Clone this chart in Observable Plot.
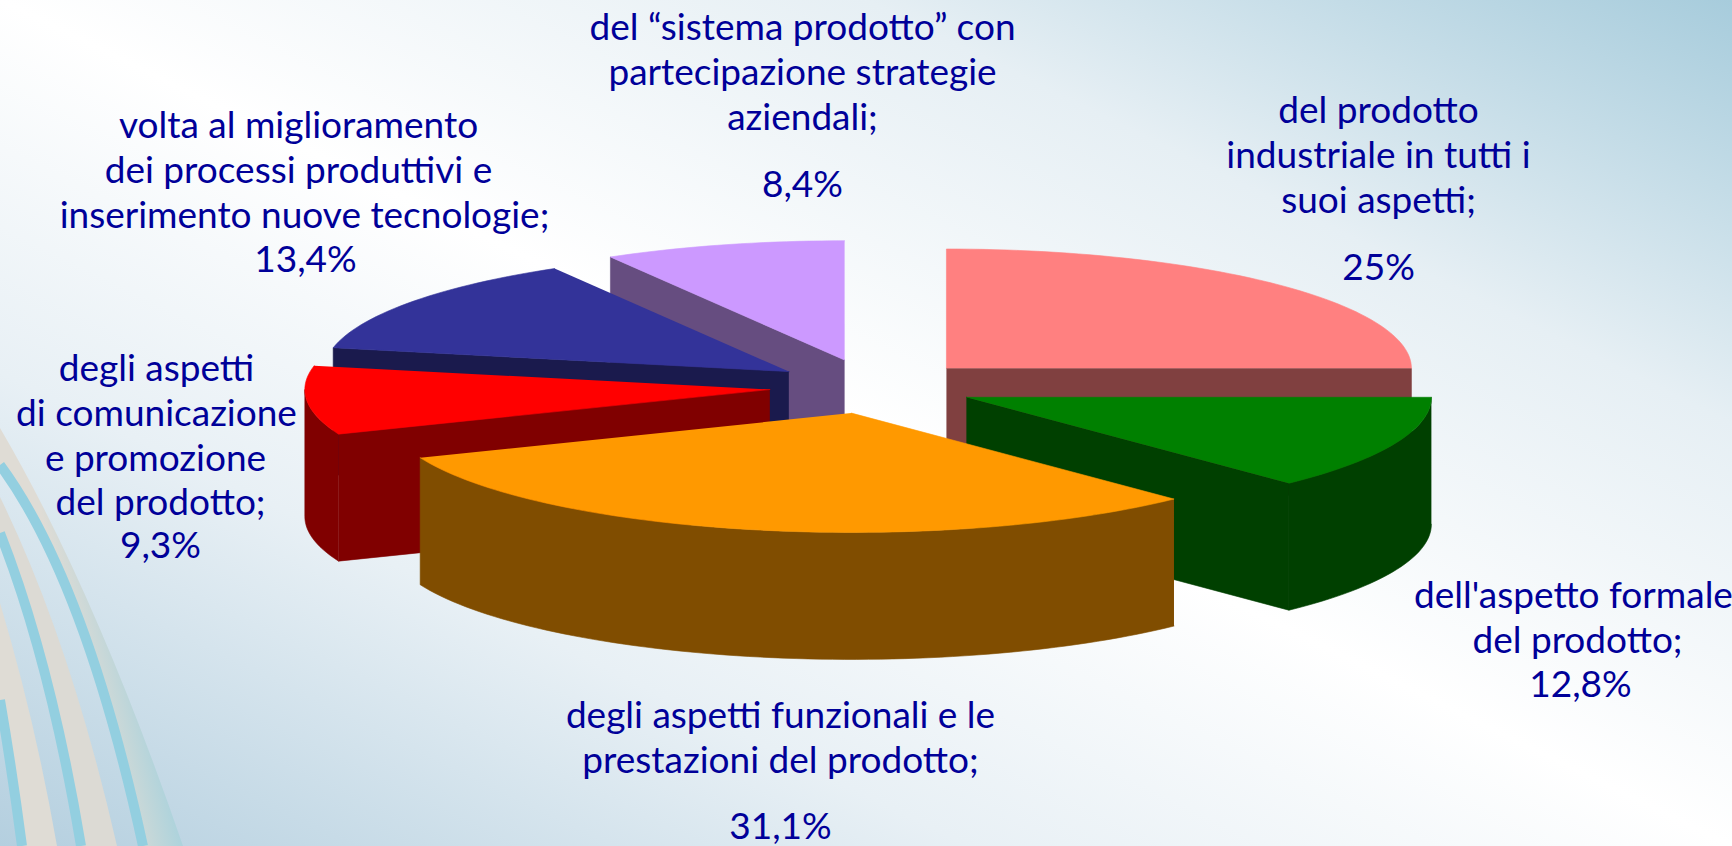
<!DOCTYPE html>
<html lang="it">
<head>
<meta charset="utf-8">
<style>
  html, body { margin: 0; padding: 0; width: 1732px; height: 846px; overflow: hidden; background: #fff; }
  #stage { position: relative; width: 1732px; height: 846px; background: linear-gradient(to bottom left, #a7ccdc 0%, #e6eff4 25%, #ffffff 50%, #e8f0f5 72%, #b4cfdf 100%); }
  #stage > svg { position: absolute; left: 0; top: 0; }
</style>
<script src="https://cdn.jsdelivr.net/npm/d3@7"></script>
<script src="https://cdn.jsdelivr.net/npm/@observablehq/plot@0.6"></script>
</head>
<body>
<div id="stage">
  <svg id="decor" width="1732" height="846" viewBox="0 0 1732 846">
    <defs>
      <linearGradient id="fade" gradientUnits="userSpaceOnUse" x1="85" y1="700" x2="170" y2="680">
        <stop offset="0" stop-color="#dfdcd5"/><stop offset="1" stop-color="#98cfdf"/>
      </linearGradient>
    </defs>
    <path d="M0,428 Q95,590 183,846 L143,846 Q85,580 0,465 Z" fill="url(#fade)"/>
    <path d="M0,497 Q70,640 117,846 L81,846 Q50,660 0,535 Z" fill="#dcdad4"/>
    <path d="M0,603 Q35,720 57,846 L22,846 Q12,770 0,700 Z" fill="#dfdcd5"/>
    <g fill="none" stroke="#93cfe0" stroke-width="10">
      <path d="M0,465 Q85,580 143,846"/>
      <path d="M0,533 Q50,660 81,846"/>
      <path d="M0,700 Q12,770 22,846"/>
    </g>
  </svg>
</div>
<script>
const categories = [
  "del prodotto\nindustriale in tutti i\nsuoi aspetti;",
  "dell'aspetto formale\ndel prodotto;",
  "degli aspetti funzionali e le\nprestazioni del prodotto;",
  "degli aspetti\ndi comunicazione\ne promozione\ndel prodotto;",
  "volta al miglioramento\ndei processi produttivi e\ninserimento nuove tecnologie;",
  "del “sistema prodotto” con\npartecipazione strategie\naziendali;"
];
const values = [25, 12.8, 31.1, 9.3, 13.4, 8.4];
const topColors = ["#ff8080", "#008000", "#ff9900", "#ff0000", "#333399", "#cc99ff"];
const wallColors = ["#804040", "#004000", "#804d00", "#800000", "#1a1a4d", "#664d80"];

// Layout of the exploded 3D pie (pixels of the picture)
const W = 1732, H = 846;
const cx = 872.6, cy = 386.6, rx = 465, ry = 119.3, depthPx = 127;
const explode = [0.223, 0.218, 0.223, 0.223, 0.223, 0.235];
const startAngle = 270;
const paintOrder = [5, 0, 4, 3, 1, 2];
const fontSize = 37, lineStep = 44.7, pctGap = [67, 44, 66, 43, 44, 67];
const labelCenterX = [
  [1378, 1378, 1378, 1378],
  [1573, 1577, 1580],
  [780, 780, 780],
  [156, 156, 155, 160, 160],
  [298, 298, 304, 305],
  [802, 802, 802, 802]
];
const labelFirstY = [111, 596, 716, 369, 126, 28];

const deg = Math.PI / 180;
const depth = depthPx / ry;
const cum = d3.cumsum(values);
const total = d3.sum(values);
const slices = values.map((v, i) => {
  const a0 = startAngle + (cum[i] - v) / total * 360;
  const a1 = startAngle + cum[i] / total * 360;
  const mid = (a0 + a1) / 2 * deg;
  return {i, a0, a1, ox: explode[i] * Math.cos(mid), oy: explode[i] * Math.sin(mid)};
});
const arc = (s, from, to) => {
  const n = Math.max(2, Math.ceil((to - from) / 1.5));
  return d3.range(n + 1).map(k => {
    const a = (from + (to - from) * k / n) * deg;
    return [s.ox + Math.cos(a), s.oy + Math.sin(a)];
  });
};
const faces = [];
const addFace = (id, color, pts) => pts.forEach(([u, v]) => faces.push({id, color, u, v}));
for (const idx of paintOrder) {
  const s = slices[idx];
  const apex = [s.ox, s.oy];
  const rim = arc(s, s.a0, s.a1);
  const wall = (p, q) => [p, q, [q[0], q[1] + depth], [p[0], p[1] + depth]];
  if (Math.cos(s.a0 * deg) < -1e-6) addFace(`${idx}-start`, wallColors[idx], wall(apex, rim[0]));
  if (Math.cos(s.a1 * deg) > 1e-6) addFace(`${idx}-end`, wallColors[idx], wall(apex, rim[rim.length - 1]));
  // outer wall: the part of the rim that faces the viewer
  const ranges = [[s.a0, s.a1], [s.a0 - 360, s.a1 - 360]];
  for (const [a, b] of ranges) {
    const f = Math.max(a, 0), t = Math.min(b, 180);
    if (t > f) {
      const r = arc(s, f, t);
      addFace(`${idx}-outer`, wallColors[idx], [...r, ...r.slice().reverse().map(([u, v]) => [u, v + depth])]);
    }
  }
  addFace(`${idx}-top`, topColors[idx], [apex, ...rim]);
}

const pct = v => String(v).replace(".", ",") + "%";
const labels = [];
categories.forEach((c, i) => {
  const lines = c.split("\n");
  lines.forEach((text, k) => labels.push({text, px: labelCenterX[i][k], py: labelFirstY[i] + k * lineStep}));
  labels.push({text: pct(values[i]), px: labelCenterX[i][lines.length], py: labelFirstY[i] + (lines.length - 1) * lineStep + pctGap[i]});
});

const chart = Plot.plot({
  width: W, height: H, margin: 0,
  style: {background: "transparent", position: "absolute", left: 0, top: 0},
  x: {domain: [(0 - cx) / rx, (W - cx) / rx], range: [0, W], axis: null},
  y: {domain: [(0 - cy) / ry, (H - cy) / ry], range: [0, H], axis: null},
  color: {type: "identity"},
  marks: [
    Plot.line(faces, {x: "u", y: "v", z: "id", fill: "color", stroke: "color", strokeWidth: 0.6, curve: "linear"}),
    Plot.text(labels, {
      x: d => (d.px - cx) / rx, y: d => (d.py - cy) / ry, text: "text",
      fill: "#000099", fontSize, fontFamily: "Lato", textAnchor: "middle"
    })
  ]
});
document.getElementById("stage").append(chart);
</script>
</body>
</html>
